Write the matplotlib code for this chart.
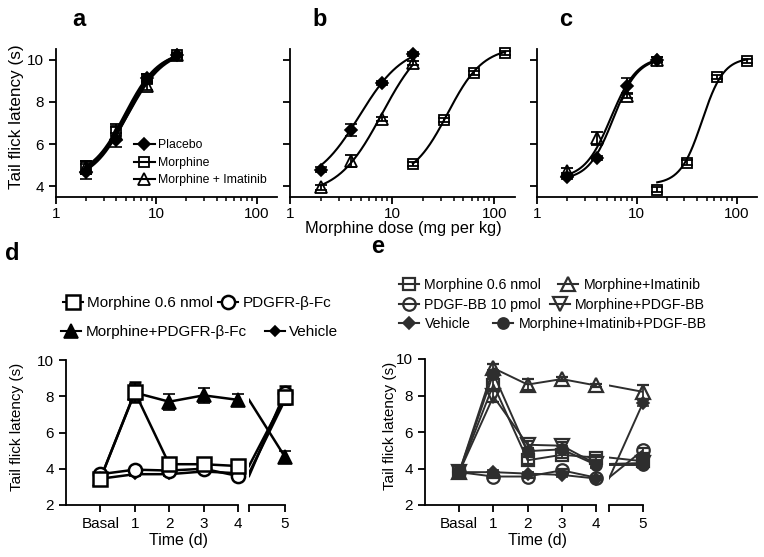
import numpy as np
import matplotlib
matplotlib.use('Agg')
import matplotlib.pyplot as plt
from matplotlib.lines import Line2D

plt.rcParams['font.family'] = ['Liberation Sans', 'DejaVu Sans']
plt.rcParams['font.size'] = 11
plt.rcParams['axes.linewidth'] = 1.3
plt.rcParams['xtick.major.width'] = 1.3
plt.rcParams['ytick.major.width'] = 1.3
plt.rcParams['xtick.minor.width'] = 1.1

# ---------------- data: dose-response (a, b, c) ----------------
doses = [2, 4, 8, 16]
doses_high = [16, 32, 64, 128]

a_placebo = [4.7, 6.2, 9.15, 10.2]
a_placebo_err = [0.35, 0.35, 0.15, 0.1]
a_morphine = [4.9, 6.6, 9.1, 10.2]
a_morphine_err = [0.3, 0.35, 0.2, 0.1]
a_imatinib = [4.9, 6.5, 8.75, 10.2]
a_imatinib_err = [0.3, 0.3, 0.2, 0.1]

b_placebo = [4.8, 6.67, 8.9, 10.25]
b_placebo_err = [0.1, 0.3, 0.1, 0.1]
b_imatinib = [3.95, 5.2, 7.2, 9.85]
b_imatinib_err = [0.1, 0.3, 0.1, 0.1]
b_morphine = [5.05, 7.15, 9.35, 10.3]
b_morphine_err = [0.1, 0.1, 0.1, 0.1]

c_placebo = [4.45, 5.33, 8.75, 10.0]
c_placebo_err = [0.1, 0.1, 0.4, 0.1]
c_imatinib = [4.75, 6.27, 8.3, 10.0]
c_imatinib_err = [0.1, 0.3, 0.1, 0.1]
c_morphine = [3.85, 5.13, 9.17, 9.95]
c_morphine_err = [0.1, 0.1, 0.1, 0.1]

# fitted sigmoid parameters: bottom, top, EC50, Hill slope
a_fit_placebo = (4.25, 10.5, 5.1, 2.5)
a_fit_morphine = (4.4, 10.4, 4.9, 2.6)
a_fit_imatinib = (4.35, 10.5, 5.2, 2.4)
b_fit_placebo = (4.0, 10.7, 4.8, 2.0)
b_fit_imatinib = (3.6, 11.3, 8.0, 2.0)
b_fit_morphine = (4.3, 10.6, 35.0, 2.5)
c_fit_placebo = (4.3, 10.1, 5.8, 3.5)
c_fit_imatinib = (4.35, 10.15, 5.5, 3.3)
c_fit_morphine = (4.1, 10.1, 45.0, 4.0)

# ---------------- data: time course (d, e) ----------------
day_labels = ['Basal', '1', '2', '3', '4', '5']

d_morphine = [3.45, 8.23, 4.25, 4.25, 4.15, 7.95]
d_morphine_err = [0.1, 0.55, 0.15, 0.15, 0.15, 0.4]
d_pdgfr = [3.7, 3.95, 3.9, 4.0, 3.6, 8.2]
d_pdgfr_err = [0.1, 0.1, 0.1, 0.1, 0.1, 0.35]
d_morph_pdgfr = [3.45, 8.2, 7.7, 8.05, 7.8, 4.65]
d_morph_pdgfr_err = [0.1, 0.5, 0.45, 0.4, 0.35, 0.35]
d_vehicle = [3.45, 3.7, 3.7, 3.85, 3.75, 7.8]
d_vehicle_err = [0.1, 0.1, 0.1, 0.1, 0.1, 0.3]

e_morphine = [3.8, 8.6, 4.45, 4.75, 4.6, 4.4]
e_morphine_err = [0.2, 0.3, 0.2, 0.2, 0.15, 0.15]
e_pdgf = [3.8, 3.56, 3.56, 3.9, 3.5, 5.0]
e_pdgf_err = [0.1, 0.1, 0.1, 0.1, 0.1, 0.15]
e_vehicle = [3.8, 3.8, 3.72, 3.65, 3.45, 7.6]
e_vehicle_err = [0.1, 0.1, 0.1, 0.1, 0.1, 0.15]
e_morph_imat = [3.8, 9.5, 8.6, 8.9, 8.55, 8.2]
e_morph_imat_err = [0.1, 0.2, 0.3, 0.1, 0.1, 0.4]
e_morph_pdgf = [3.8, 7.95, 5.3, 5.25, 4.25, 4.3]
e_morph_pdgf_err = [0.1, 0.3, 0.2, 0.2, 0.15, 0.15]
e_morph_imat_pdgf = [3.8, 9.2, 4.95, 5.05, 4.2, 4.2]
e_morph_imat_pdgf_err = [0.1, 0.2, 0.2, 0.2, 0.15, 0.15]

# ---------------- layout ----------------
W, H = 764, 557
fig = plt.figure(figsize=(W / 100, H / 100), dpi=100)


def box(l, t, r, b):
    return [l / W, 1 - b / H, (r - l) / W, (b - t) / H]


def fx(x):
    return x / W


def fy(y):
    return 1 - y / H


def sigmoid(x, bottom, top, ec50, hill):
    return bottom + (top - bottom) / (1 + (ec50 / x) ** hill)


K = 'black'
styles = {
    'placebo': dict(marker='D', ms=6, mfc=K, mec=K, mew=1.2),
    'morphine': dict(marker='s', ms=7.8, mfc='none', mec=K, mew=1.3),
    'imatinib': dict(marker='^', ms=8.5, mfc='none', mec=K, mew=1.3),
}


def style_dose_axis(ax, show_ylabels):
    ax.set_xscale('log')
    ax.set_xlim(1, 160)
    ax.set_ylim(3.5, 10.5)
    ax.set_yticks([4, 6, 8, 10])
    ax.set_xticks([1, 10, 100])
    ax.set_xticklabels(['1', '10', '100'])
    ax.spines['top'].set_visible(False)
    ax.spines['right'].set_visible(False)
    ax.tick_params(axis='both', which='major', direction='out', length=5, labelsize=11)
    ax.tick_params(axis='x', which='major', pad=2)
    ax.tick_params(axis='x', which='minor', direction='out', length=3)
    if not show_ylabels:
        ax.set_yticklabels([])


def dose_panel(ax, series, lw):
    for x, y, err, key, fit in series:
        ax.errorbar(x, y, yerr=err, linestyle='none', color=K, capsize=4,
                    elinewidth=1.3, capthick=1.3, zorder=3, clip_on=False, **styles[key])
        xs = np.geomspace(min(x), max(x), 200)
        ax.plot(xs, sigmoid(xs, *fit), color=K, lw=lw, zorder=2)


ax_a = fig.add_axes(box(56, 49, 277, 197))
style_dose_axis(ax_a, True)
dose_panel(ax_a, [
    (doses, a_placebo, a_placebo_err, 'placebo', a_fit_placebo),
    (doses, a_morphine, a_morphine_err, 'morphine', a_fit_morphine),
    (doses, a_imatinib, a_imatinib_err, 'imatinib', a_fit_imatinib),
], 2.2)
fig.text(fx(17), fy(117), 'Tail flick latency (s)', rotation=90, ha='center', va='center',
         fontsize=12.3)

ax_b = fig.add_axes(box(290, 49, 515, 197))
style_dose_axis(ax_b, False)
dose_panel(ax_b, [
    (doses, b_placebo, b_placebo_err, 'placebo', b_fit_placebo),
    (doses_high, b_morphine, b_morphine_err, 'morphine', b_fit_morphine),
    (doses, b_imatinib, b_imatinib_err, 'imatinib', b_fit_imatinib),
], 1.5)
fig.text(fx(403), fy(229), 'Morphine dose (mg per kg)', ha='center', va='center', fontsize=11.8)

ax_c = fig.add_axes(box(537, 49, 757, 197))
style_dose_axis(ax_c, False)
dose_panel(ax_c, [
    (doses, c_placebo, c_placebo_err, 'placebo', c_fit_placebo),
    (doses_high, c_morphine, c_morphine_err, 'morphine', c_fit_morphine),
    (doses, c_imatinib, c_imatinib_err, 'imatinib', c_fit_imatinib),
], 1.5)

# legend for panel a
leg_a = [Line2D([], [], color=K, lw=1.5, **styles[k]) for k in ['placebo', 'morphine', 'imatinib']]
fig.legend(leg_a, ['Placebo', 'Morphine', 'Morphine + Imatinib'],
           loc='center left', bbox_to_anchor=(fx(134), fy(163)), frameon=False,
           fontsize=8.8, handlelength=1.7, handletextpad=0.3, borderpad=0,
           borderaxespad=0, labelspacing=0.45)


# ---------------- time-course panels ----------------
def time_axes(left, top, right_break, right_start, right_end, bottom, ylab_x):
    axl = fig.add_axes(box(left, top, right_break, bottom))
    axr = fig.add_axes(box(right_start, top, right_end, bottom))
    for ax in (axl, axr):
        ax.set_ylim(2, 10)
        ax.spines['top'].set_visible(False)
        ax.spines['right'].set_visible(False)
        ax.patch.set_alpha(0)
        ax.tick_params(direction='out', length=5, labelsize=11)
    axl.set_xlim(-1, 4)
    axl.set_xticks(range(5))
    axl.set_xticklabels(day_labels[:5])
    axl.set_yticks([2, 4, 6, 8, 10])
    axr.set_xlim(4, 5)
    axr.set_xticks([4, 5])
    axr.set_xticklabels(['', day_labels[5]])
    axr.spines['left'].set_visible(False)
    axr.set_yticks([])
    fig.text(fx(ylab_x), fy((top + bottom) / 2 - 6), 'Tail flick latency (s)', rotation=90,
             ha='center', va='center', fontsize=11)
    fig.text(fx((left + right_end) / 2 + 3), fy(540), 'Time (d)', ha='center', va='center',
             fontsize=11.5)
    return axl, axr


def time_series(axl, axr, y, err, color, lw, mstyle):
    pos = list(range(len(y)))
    axl.plot(pos[:5], y[:5], color=color, lw=lw, zorder=2)
    axl.errorbar(pos[:5], y[:5], yerr=err[:5], linestyle='none', color=color, capsize=4,
                 elinewidth=1.3, capthick=1.3, clip_on=False, zorder=3, **mstyle)
    axr.plot(pos[4:], y[4:], color=color, lw=lw, zorder=2)
    axr.errorbar(pos[5:], y[5:], yerr=err[5:], linestyle='none', color=color, capsize=4,
                 elinewidth=1.3, capthick=1.3, clip_on=False, zorder=3, **mstyle)


d_styles = {
    'morphine': dict(marker='s', ms=9.5, mfc='white', mec=K, mew=1.8),
    'pdgfr': dict(marker='o', ms=9.5, mfc='white', mec=K, mew=1.8),
    'morph_pdgfr': dict(marker='^', ms=9.5, mfc=K, mec=K, mew=1.2),
    'vehicle': dict(marker='D', ms=5.5, mfc=K, mec=K, mew=1.2),
}
dl, dr = time_axes(66, 360, 238, 249, 285, 505, 17)
for y, err, key in [(d_vehicle, d_vehicle_err, 'vehicle'),
                    (d_pdgfr, d_pdgfr_err, 'pdgfr'),
                    (d_morph_pdgfr, d_morph_pdgfr_err, 'morph_pdgfr'),
                    (d_morphine, d_morphine_err, 'morphine')]:
    time_series(dl, dr, y, err, K, 1.8, d_styles[key])

d_row1 = [Line2D([], [], color=K, lw=1.5, **d_styles[k]) for k in ['morphine', 'pdgfr']]
fig.legend(d_row1, ['Morphine 0.6 nmol', 'PDGFR-\u03b2-Fc'], loc='center left',
           bbox_to_anchor=(fx(63), fy(303)), frameon=False, ncol=2, fontsize=11,
           handlelength=1.3, handletextpad=0.3, columnspacing=0.3, borderpad=0, borderaxespad=0)
d_row2 = [Line2D([], [], color=K, lw=1.5, **d_styles[k]) for k in ['morph_pdgfr', 'vehicle']]
fig.legend(d_row2, ['Morphine+PDGFR-\u03b2-Fc', 'Vehicle'], loc='center left',
           bbox_to_anchor=(fx(61), fy(332)), frameon=False, ncol=2, fontsize=11,
           handlelength=1.3, handletextpad=0.3, columnspacing=1.2, borderpad=0, borderaxespad=0)

G = '#2e2e2e'
e_styles = {
    'morphine': dict(marker='s', ms=9, mfc='none', mec=G, mew=1.6),
    'pdgf': dict(marker='o', ms=9, mfc='none', mec=G, mew=1.6),
    'vehicle': dict(marker='D', ms=6.5, mfc=G, mec=G, mew=1.2),
    'morph_imat': dict(marker='^', ms=10, mfc='none', mec=G, mew=1.6),
    'morph_pdgf': dict(marker='v', ms=10, mfc='none', mec=G, mew=1.6),
    'morph_imat_pdgf': dict(marker='o', ms=8, mfc=G, mec=G, mew=1.2),
}
el, er = time_axes(425, 359, 596, 609, 643, 505, 390)
for y, err, key in [(e_vehicle, e_vehicle_err, 'vehicle'),
                    (e_pdgf, e_pdgf_err, 'pdgf'),
                    (e_morph_imat_pdgf, e_morph_imat_pdgf_err, 'morph_imat_pdgf'),
                    (e_morph_pdgf, e_morph_pdgf_err, 'morph_pdgf'),
                    (e_morphine, e_morphine_err, 'morphine'),
                    (e_morph_imat, e_morph_imat_err, 'morph_imat')]:
    time_series(el, er, y, err, G, 1.4, e_styles[key])

e_rows = [
    (['morphine', 'morph_imat'], ['Morphine 0.6 nmol', 'Morphine+Imatinib'], 285, 1.2),
    (['pdgf', 'morph_pdgf'], ['PDGF-BB 10 pmol', 'Morphine+PDGF-BB'], 305, 0.6),
    (['vehicle', 'morph_imat_pdgf'], ['Vehicle', 'Morphine+Imatinib+PDGF-BB'], 324, 1.6),
]
for keys, labels, yrow, cs in e_rows:
    hs = [Line2D([], [], color=G, lw=1.5, **e_styles[k]) for k in keys]
    fig.legend(hs, labels, loc='center left', bbox_to_anchor=(fx(399), fy(yrow)),
               frameon=False, ncol=2, fontsize=10.2, handlelength=1.4, handletextpad=0.4,
               columnspacing=cs, borderpad=0, borderaxespad=0)

# panel letters
for letter, x, y in [('a', 79, 20), ('b', 320, 20), ('c', 566, 20), ('d', 12, 253), ('e', 378, 247)]:
    fig.text(fx(x), fy(y), letter, ha='center', va='center', fontsize=17, fontweight='bold')

fig.savefig('out.png', dpi=100)
